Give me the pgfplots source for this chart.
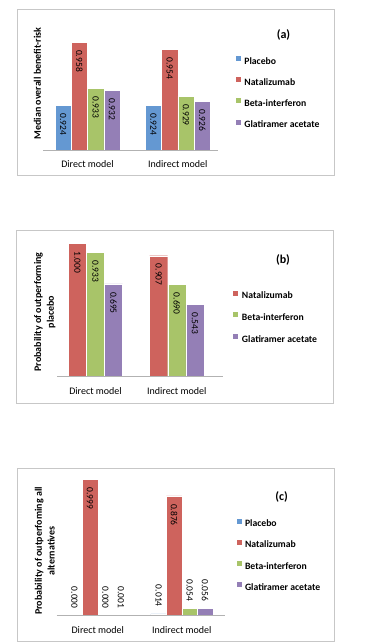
\documentclass[border=0pt]{standalone}
\usepackage{fontspec}
\setmainfont{Carlito}
\usepackage{pgfplots}
\pgfplotsset{compat=1.18}
\definecolor{cBlue}{RGB}{100,152,210}
\definecolor{cRed}{RGB}{206,99,93}
\definecolor{cGreen}{RGB}{168,196,105}
\definecolor{cPurple}{RGB}{148,127,182}
\pgfplotsset{
  mybars/.style={
    ybar=0pt, scale only axis, axis on top,
    axis x line=bottom, axis y line=none,
    x axis line style={-, draw=black!30, line width=0.8pt},
    xtick={0,1}, xticklabels={Direct model, Indirect model},
    major tick length=0pt,
    xticklabel style={font=\fontsize{10}{12}\selectfont, anchor=center, yshift=-14pt},
    nodes near coords={\pgfmathprintnumber[fixed,zerofill,precision=3]{\pgfplotspointmeta}},
    every node near coord/.append style={font=\fontsize{9.5}{11}\selectfont, rotate=-90, anchor=west, inner xsep=8pt, inner ysep=0pt},
    /pgf/number format/assume math mode=true,
    legend cell align=left,
    legend image code/.code={\fill[##1,draw=none] (0pt,0.5pt) rectangle (5pt,5.5pt);},
    legend style={draw=none, fill=none, inner sep=0pt, anchor=west,
      nodes={inner sep=0pt, font=\fontsize{9.7}{11}\selectfont\bfseries, text height=7pt, text depth=2pt},
      column sep=3.5pt},
    anchor=south west,
  },
  barstyle/.style={fill=#1, draw=white, line width=0.3pt},
}
\begin{document}
\begin{tikzpicture}
\path[use as bounding box] (0pt,0pt) rectangle (370pt,642pt);
% frames
\draw[black!22, line width=0.8pt] (17pt,467pt) rectangle (334pt,633pt);
\draw[black!22, line width=0.8pt] (16pt,239pt) rectangle (333pt,412pt);
\draw[black!22, line width=0.8pt] (17pt,1pt) rectangle (334pt,174pt);

% ---------------- (a)
\begin{axis}[mybars, at={(43.3pt,492pt)}, width=175pt, height=111.7pt,
  xmin=-0.4895, xmax=1.4485, ymin=0.9, ymax=0.96, bar width=16.25pt,
  legend style={at={(rel axis cs:1.0994,0.511)}, row sep=11.1pt}]
\addplot[barstyle=cBlue] coordinates {(0,0.924) (1,0.924)};
\addplot[barstyle=cRed] coordinates {(0,0.958) (1,0.954)};
\addplot[barstyle=cGreen] coordinates {(0,0.933) (1,0.929)};
\addplot[barstyle=cPurple] coordinates {(0,0.932) (1,0.926)};
\legend{Placebo, Natalizumab, Beta-interferon, Glatiramer acetate}
\end{axis}
\node[rotate=90, font=\fontsize{10}{12}\selectfont\bfseries] at (37.5pt,558.5pt) {Median overall benefit-risk};
\node[font=\fontsize{12}{14}\selectfont\bfseries] at (283.5pt,607pt) {(a)};

% ---------------- (b)
\begin{axis}[mybars, at={(57.3pt,265.3pt)}, width=165.4pt, height=133.4pt,
  xmin=-0.470, xmax=1.566, ymin=0, ymax=1, bar width=18.1pt,
  legend style={at={(rel axis cs:1.064,0.4445)}, row sep=11.7pt}]
\addplot[barstyle=cRed] coordinates {(0,1.000) (1,0.907)};
\addplot[barstyle=cGreen] coordinates {(0,0.933) (1,0.690)};
\addplot[barstyle=cPurple] coordinates {(0,0.695) (1,0.543)};
\legend{Natalizumab, Beta-interferon, Glatiramer acetate}
\end{axis}
\node[rotate=90, align=center, font=\fontsize{10}{12.7}\selectfont\bfseries] at (44.7pt,330pt) {Probability of outperforming\\placebo};
\node[font=\fontsize{12}{14}\selectfont\bfseries] at (283pt,382.3pt) {(b)};

% ---------------- (c)
\begin{axis}[mybars, at={(56.7pt,26.3pt)}, width=168.3pt, height=136.8pt,
  xmin=-0.489, xmax=1.514, ymin=0, ymax=1, bar width=15.5pt,
  legend style={at={(rel axis cs:1.0672,0.440)}, row sep=11.3pt}]
\addplot[barstyle=cBlue, every node near coord/.append style={anchor=east, inner xsep=7pt}] coordinates {(0,0.000) (1,0.014)};
\addplot[barstyle=cRed] coordinates {(0,0.999) (1,0.876)};
\addplot[barstyle=cGreen, every node near coord/.append style={anchor=east, inner xsep=7pt}] coordinates {(0,0.000) (1,0.054)};
\addplot[barstyle=cPurple, every node near coord/.append style={anchor=east, inner xsep=7pt}] coordinates {(0,0.001) (1,0.056)};
\legend{Placebo, Natalizumab, Beta-interferon, Glatiramer acetate}
\end{axis}
\node[rotate=90, align=center, font=\fontsize{10}{12.7}\selectfont\bfseries] at (44.7pt,91pt) {Probability of outperfoming all\\alternatives};
\node[font=\fontsize{12}{14}\selectfont\bfseries] at (281.7pt,145.3pt) {(c)};
\end{tikzpicture}
\end{document}
